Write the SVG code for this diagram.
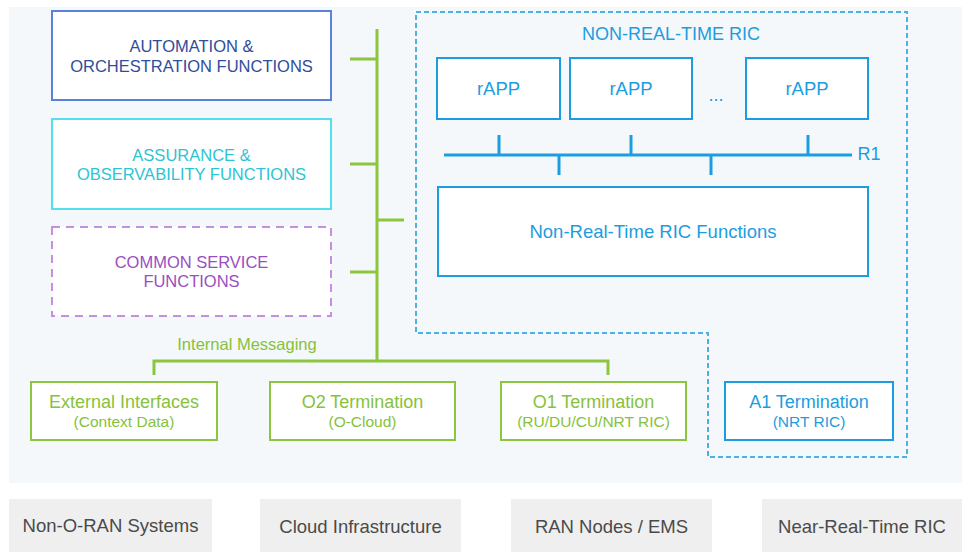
<svg xmlns="http://www.w3.org/2000/svg" width="967" height="552" viewBox="0 0 967 552">
  <style>
    text { font-family: "Liberation Sans", Arial, sans-serif; text-anchor: middle; }
    .box { fill: #ffffff; stroke-width: 2; }
    .green { stroke: #8cc63f; }
    .gtxt { fill: #86c23c; }
    .blue { stroke: #1c9de0; }
    .btxt { fill: #1c9de0; }
    .bus { fill: none; stroke-width: 3; }
    .gray { fill: #efefef; }
    .graytxt { fill: #4a4a4a; font-size: 18.5px; }
    .cap { font-size: 16.5px; }
    .l1 { font-size: 18px; }
    .l2 { font-size: 15.5px; }
  </style>

  <rect x="9" y="7" width="953" height="476" fill="#f4f8fa"/>

  <!-- Non-RT RIC dashed boundary -->
  <g id="nrt-ric-boundary">
    <path d="M416,12 H907 V457 H708 V333 H416 Z" fill="none" stroke="#4ab3e6" stroke-width="2" stroke-dasharray="5,3"/>
    <text x="671" y="40" class="btxt" style="font-size:18px">NON-REAL-TIME RIC</text>
  </g>

  <g id="connectors">
    <!-- green internal messaging -->
    <path class="bus green" d="M377,29 V361"/>
    <path class="bus green" d="M350,59 H377 M350,164 H377 M350,272 H377 M377,220 H404"/>
    <path class="bus green" d="M154,375 V361 H608 V375"/>
    <!-- R1 bus -->
    <path class="bus blue" d="M444,155 H852"/>
    <path class="bus blue" d="M499,135 V155 M631,135 V155 M808,135 V155 M559,155 V175 M711,155 V175"/>
  </g>
  <text x="247" y="350" class="gtxt" style="font-size:16.5px">Internal Messaging</text>
  <text x="869" y="160" class="btxt" style="font-size:18px">R1</text>
  <text x="716" y="101" class="btxt" style="font-size:18px">...</text>

  <g id="automation">
    <rect x="52" y="11" width="279" height="89" class="box" stroke="#5b82d8"/>
    <text x="191.5" y="52" class="cap" fill="#2e4d9b">AUTOMATION &amp;</text>
    <text x="191.5" y="72" class="cap" fill="#2e4d9b">ORCHESTRATION FUNCTIONS</text>
  </g>
  <g id="assurance">
    <rect x="52" y="119" width="279" height="90" class="box" stroke="#52e0ef"/>
    <text x="191.5" y="161" class="cap" fill="#2cc4d4">ASSURANCE &amp;</text>
    <text x="191.5" y="180" class="cap" fill="#2cc4d4">OBSERVABILITY FUNCTIONS</text>
  </g>
  <g id="common">
    <rect x="52" y="227" width="279" height="89" class="box" stroke="#c58ee2" stroke-dasharray="8,6"/>
    <text x="191.5" y="268" class="cap" fill="#9a4ec0">COMMON SERVICE</text>
    <text x="191.5" y="287" class="cap" fill="#9a4ec0">FUNCTIONS</text>
  </g>

  <g id="rapp1">
    <rect x="437" y="58" width="123" height="61" class="box blue"/>
    <text x="498.5" y="95" class="btxt" style="font-size:18.5px">rAPP</text>
  </g>
  <g id="rapp2">
    <rect x="570" y="58" width="122" height="61" class="box blue"/>
    <text x="631" y="95" class="btxt" style="font-size:18.5px">rAPP</text>
  </g>
  <g id="rapp3">
    <rect x="746" y="58" width="122" height="61" class="box blue"/>
    <text x="807" y="95" class="btxt" style="font-size:18.5px">rAPP</text>
  </g>
  <g id="nrt-functions">
    <rect x="438" y="187" width="430" height="89" class="box blue"/>
    <text x="653" y="238" class="btxt" style="font-size:18.5px">Non-Real-Time RIC Functions</text>
  </g>

  <g id="external-interfaces">
    <rect x="31" y="382" width="186" height="58" class="box green"/>
    <text x="124" y="408" class="gtxt l1">External Interfaces</text>
    <text x="124" y="427" class="gtxt l2">(Context Data)</text>
  </g>
  <g id="o2-termination">
    <rect x="270" y="382" width="185" height="58" class="box green"/>
    <text x="362.5" y="408" class="gtxt l1">O2 Termination</text>
    <text x="362.5" y="427" class="gtxt l2">(O-Cloud)</text>
  </g>
  <g id="o1-termination">
    <rect x="501" y="382" width="185" height="58" class="box green"/>
    <text x="593.5" y="408" class="gtxt l1">O1 Termination</text>
    <text x="593.5" y="427" class="gtxt l2">(RU/DU/CU/NRT RIC)</text>
  </g>
  <g id="a1-termination">
    <rect x="725" y="382" width="168" height="58" class="box blue"/>
    <text x="809" y="408" class="btxt l1">A1 Termination</text>
    <text x="809" y="427" class="btxt l2">(NRT RIC)</text>
  </g>

  <g id="non-oran">
    <rect x="9" y="499" width="203" height="53" class="gray"/>
    <text x="110.5" y="532" class="graytxt">Non-O-RAN Systems</text>
  </g>
  <g id="cloud-infra">
    <rect x="260" y="499" width="201" height="53" class="gray"/>
    <text x="360.5" y="533" class="graytxt">Cloud Infrastructure</text>
  </g>
  <g id="ran-nodes">
    <rect x="511" y="499" width="201" height="53" class="gray"/>
    <text x="611.5" y="533" class="graytxt">RAN Nodes / EMS</text>
  </g>
  <g id="near-rt-ric">
    <rect x="762" y="499" width="200" height="53" class="gray"/>
    <text x="862" y="533" class="graytxt">Near-Real-Time RIC</text>
  </g>
</svg>
